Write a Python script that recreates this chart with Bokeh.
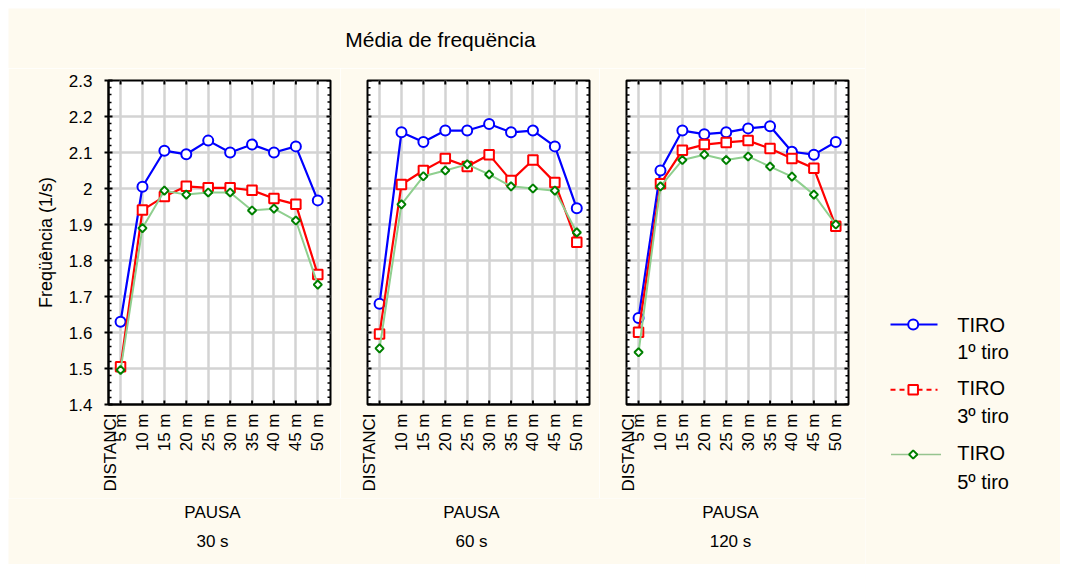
import math
import numpy as np
from bokeh.plotting import figure
from bokeh.layouts import row, column
from bokeh.models import Range1d, FixedTicker, Label
from bokeh.embed import file_html
from bokeh.resources import INLINE

# ---------------- data ----------------
DIST = ["5 m", "10 m", "15 m", "20 m", "25 m", "30 m", "35 m", "40 m", "45 m", "50 m"]
PAUSES = ["30 s", "60 s", "120 s"]
SERIES = ["1º tiro", "3º tiro", "5º tiro"]
FACTOR = "TIRO"
TITLE = "Média de frequëncia"
YLABEL = "Freqüência (1/s)"
XFACTOR = "PAUSA"
XNAME = "DISTANCI"

tiro1_30 = [1.630, 2.005, 2.105, 2.095, 2.133, 2.100, 2.122, 2.100, 2.117, 1.967]
tiro3_30 = [1.505, 1.940, 1.978, 2.006, 2.002, 2.002, 1.995, 1.972, 1.956, 1.761]
tiro5_30 = [1.496, 1.890, 1.994, 1.983, 1.989, 1.989, 1.939, 1.944, 1.911, 1.733]

tiro1_60 = [1.680, 2.156, 2.129, 2.161, 2.161, 2.179, 2.156, 2.161, 2.117, 1.945]
tiro3_60 = [1.596, 2.011, 2.050, 2.083, 2.061, 2.094, 2.022, 2.079, 2.017, 1.851]
tiro5_60 = [1.556, 1.956, 2.034, 2.050, 2.067, 2.039, 2.006, 2.000, 1.994, 1.878]

tiro1_120 = [1.640, 2.050, 2.161, 2.151, 2.156, 2.167, 2.173, 2.102, 2.094, 2.129]
tiro3_120 = [1.601, 2.013, 2.106, 2.122, 2.128, 2.133, 2.111, 2.083, 2.056, 1.895]
tiro5_120 = [1.545, 2.006, 2.079, 2.094, 2.079, 2.089, 2.061, 2.033, 1.983, 1.900]

YTICKS = [1.4, 1.5, 1.6, 1.7, 1.8, 1.9, 2.0, 2.1, 2.2, 2.3]
YLABELS = ["1.4", "1.5", "1.6", "1.7", "1.8", "1.9", "2", "2.1", "2.2", "2.3"]

# ---------------- style ----------------
CREAM = "#fefaef"
FONT = "Liberation Sans"
BLUE = "#0000ff"
RED = "#ff0000"
GREEN_LINE = "#8fcf8f"
GREEN_MK = "#008000"
GRID = "#d3d3d3"

XR = (0.45, 10.58)
YR = (1.4, 2.3)
FW, FH = 222, 324
KX = FW / (XR[1] - XR[0])
KY = FH / (YR[1] - YR[0])
DIST_X = 1 - 10.5 / KX  # position of the factor name label

xpos = list(range(1, len(DIST) + 1))
minor = [round(v, 3) for v in np.arange(YR[0], YR[1] + 1e-6, 0.02) if round(v * 10, 6) % 1 != 0]

TOP_H = 60
PTOP = 12
PBOT = 94
BOT_H = 66
PANEL_BORDERS = [(100, 10), (27, 10), (27, 17)]
LEG_W = 195

MK = dict(
    blue=dict(marker="circle", size=10, line_color=BLUE, line_width=2, fill_color="white"),
    red=dict(marker="square", size=9.5, line_color=RED, line_width=2, fill_color="white"),
    green=dict(marker="square", angle=math.pi / 4, size=5.8, line_color=GREEN_MK, line_width=2,
               fill_color="white"),
)


def txt(p, x, y, s, size, align="left", angle=0.0):
    p.add_layout(Label(x=x, y=y, text=s, angle=angle, text_align=align, text_baseline="middle",
                       text_font=FONT, text_font_size=size, text_color="black"))


def make_panel(blue, red, green, bl, br, show_y, show_first):
    p = figure(width=bl + FW + br, height=PTOP + FH + PBOT,
               x_range=Range1d(*XR), y_range=Range1d(*YR),
               output_backend="svg", toolbar_location=None,
               y_axis_location="left" if show_y else None,
               min_border_left=bl, min_border_right=br,
               min_border_top=PTOP, min_border_bottom=PBOT,
               background_fill_color="white", border_fill_color=CREAM,
               outline_line_color="black", outline_line_width=2)
    # bottom axis (labels only; ticks drawn below)
    xa = p.xaxis[0]
    ticks = [DIST_X] + (xpos if show_first else xpos[1:])
    xa.ticker = FixedTicker(ticks=ticks)
    ov = {DIST_X: XNAME}
    ov.update({x: d for x, d in zip(xpos, DIST)})
    xa.major_label_overrides = ov
    xa.major_label_orientation = math.pi / 2
    xa.major_label_text_font = FONT
    xa.major_label_text_font_size = "17px"
    xa.major_label_text_color = "black"
    xa.major_label_standoff = 9
    xa.major_tick_in = 0
    xa.major_tick_out = 0
    xa.minor_tick_line_color = None
    xa.axis_line_width = 2
    p.xgrid.ticker = FixedTicker(ticks=xpos)
    p.ygrid.ticker = FixedTicker(ticks=YTICKS)
    if show_y:
        ya = p.yaxis[0]
        ya.ticker = FixedTicker(ticks=YTICKS, minor_ticks=minor)
        ya.major_label_overrides = {t: l for t, l in zip(YTICKS, YLABELS)}
        ya.major_label_text_font = FONT
        ya.major_label_text_font_size = "17px"
        ya.major_label_text_color = "black"
        ya.major_label_standoff = 12
        ya.major_tick_in = 4
        ya.major_tick_out = 4
        ya.minor_tick_in = 3
        ya.minor_tick_out = 0
        ya.axis_line_width = 2
        ya.major_tick_line_width = 2
        ya.minor_tick_line_width = 1.5
        ya.axis_label = YLABEL
        ya.axis_label_text_font = FONT
        ya.axis_label_text_font_size = "18px"
        ya.axis_label_text_font_style = "normal"
        ya.axis_label_text_color = "black"
        ya.axis_label_standoff = 10
    p.xgrid.grid_line_color = GRID
    p.xgrid.grid_line_width = 2.5
    p.ygrid.grid_line_color = GRID
    p.ygrid.grid_line_width = 2.5

    # inward tick marks on the frame (right, top, bottom, and left when no axis)
    nmaj, nmin = len(YTICKS), len(minor)
    p.segment([XR[1] - 4 / KX] * nmaj, YTICKS, [XR[1]] * nmaj, YTICKS, line_color="black", line_width=2)
    p.segment([XR[1] - 3 / KX] * nmin, minor, [XR[1]] * nmin, minor, line_color="black", line_width=1.5)
    if not show_y:
        p.segment([XR[0]] * nmaj, YTICKS, [XR[0] + 4 / KX] * nmaj, YTICKS, line_color="black", line_width=2)
        p.segment([XR[0]] * nmin, minor, [XR[0] + 3 / KX] * nmin, minor, line_color="black", line_width=1.5)
    nx = len(xpos)
    p.segment(xpos, [YR[1] - 4 / KY] * nx, xpos, [YR[1]] * nx, line_color="black", line_width=2)
    p.segment(xpos, [YR[0]] * nx, xpos, [YR[0] + 4 / KY] * nx, line_color="black", line_width=2)

    # series
    p.line(xpos, blue, line_color=BLUE, line_width=2.2)
    p.scatter(xpos, blue, **MK["blue"])
    p.line(xpos, red, line_color=RED, line_width=2.2)
    p.scatter(xpos, red, **MK["red"])
    p.line(xpos, green, line_color=GREEN_LINE, line_width=2)
    p.scatter(xpos, green, **MK["green"])
    return p


def strip(w, h):
    s = figure(width=w, height=h, x_range=Range1d(0, w), y_range=Range1d(h, 0),
               output_backend="svg", toolbar_location=None, min_border=0,
               x_axis_location=None, y_axis_location=None,
               background_fill_color=CREAM, border_fill_color=CREAM, outline_line_color=None)
    s.grid.visible = False
    return s


p1 = make_panel(tiro1_30, tiro3_30, tiro5_30, *PANEL_BORDERS[0], True, True)
p2 = make_panel(tiro1_60, tiro3_60, tiro5_60, *PANEL_BORDERS[1], False, False)
p3 = make_panel(tiro1_120, tiro3_120, tiro5_120, *PANEL_BORDERS[2], False, True)

PANELS_W = sum(b[0] + FW + b[1] for b in PANEL_BORDERS)
TOTAL_H = TOP_H + PTOP + FH + PBOT + BOT_H

frame_left = []
acc = 0
for bl, br in PANEL_BORDERS:
    frame_left.append(acc + bl)
    acc += bl + FW + br

# title strip
top = strip(PANELS_W, TOP_H)
txt(top, 432, 31, TITLE, "21px", align="center")

# bottom strip with PAUSA labels
bot = strip(PANELS_W, BOT_H)
for fl, pz in zip(frame_left, PAUSES):
    cx = fl + FW / 2 - 7
    txt(bot, cx, 14, XFACTOR, "17px", align="center")
    txt(bot, cx, 43, pz, "17px", align="center")

# legend (full height)
lg = strip(LEG_W, TOTAL_H)
ly = [316, 381.3, 446]
lg.line([25, 72], [ly[0], ly[0]], line_color=BLUE, line_width=2)
lg.scatter([47.7], [ly[0]], **MK["blue"])
lg.line([25, 72], [ly[1], ly[1]], line_color=RED, line_width=2, line_dash="5 4")
lg.scatter([47.7], [ly[1]], **MK["red"])
lg.line([26, 75], [ly[2], ly[2]], line_color="#2f8f2f", line_width=1.5, line_dash="1 1")
lg.scatter([47.7], [ly[2]], **MK["green"])
ty1 = [316, 379.7, 444.3]
ty2 = [343.7, 407.7, 473]
for a, b, s in zip(ty1, ty2, SERIES):
    txt(lg, 91.7, a, FACTOR, "20px")
    txt(lg, 91.7, b, s, "20px")

layout = row(column(top, row(p1, p2, p3), bot), lg, margin=(8, 8, 8, 8))
open("out.html", "w").write(file_html(layout, INLINE))
